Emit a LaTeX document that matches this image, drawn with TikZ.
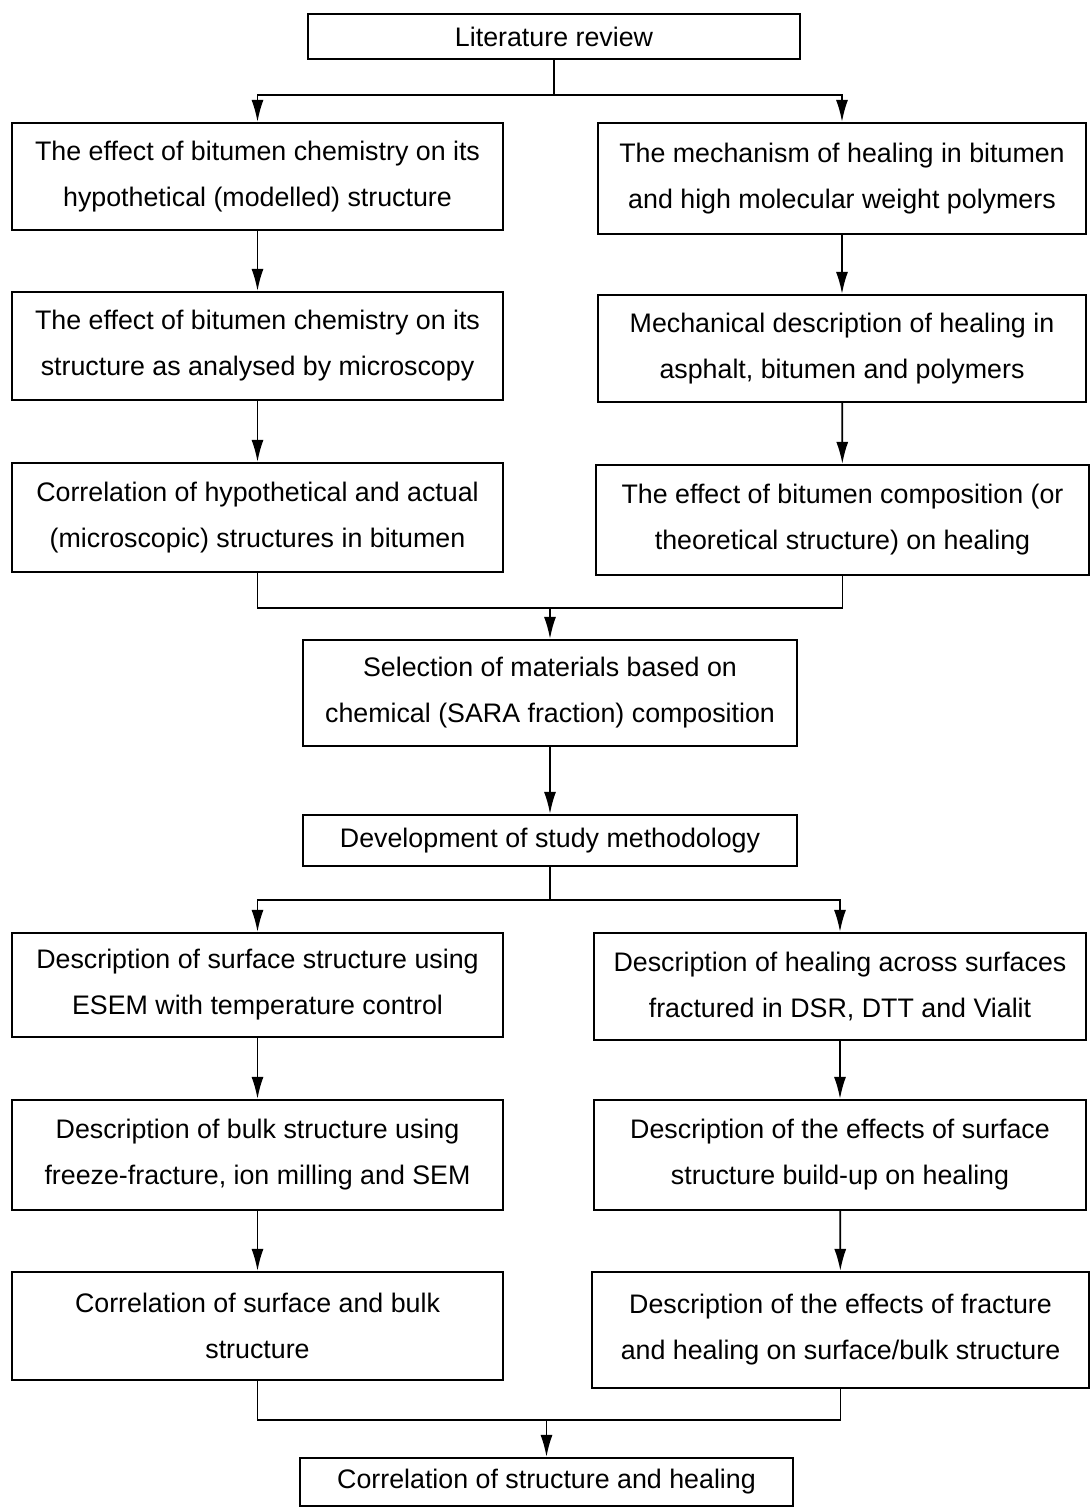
\documentclass[tikz,border=0pt]{standalone}
\usepackage{fontspec}
\setmainfont{Liberation Sans}
\usepackage{tikz}
\usetikzlibrary{arrows.meta}
\tikzset{
    every node/.style={align=center,font=\fontsize{26.8}{46}\selectfont,},
    stage/.style={draw,rectangle,line width=2.2pt,inner sep=0pt,minimum width=491pt,minimum height=107pt,},
    single/.style={stage,minimum height=47pt,},
    link/.style={line width=1.8pt,},
    flow/.style={link,-{Latex[length=22pt,width=12pt]},},
}

\begin{document}
\begin{tikzpicture}[x=1pt,y=-1pt]
                \useasboundingbox (0,0) rectangle (1091,1508);

                \node[single,minimum width=492pt,minimum height=45pt] (review) at (554, 36.5) {Literature review};

                \node[stage] (chem_model) at (257.5, 176.5) {The effect of bitumen chemistry on its\\hypothetical (modelled) structure};
                \node[stage,minimum width=488pt,minimum height=111pt] (heal_mech) at (842, 178.5) {The mechanism of healing in bitumen\\and high molecular weight polymers};

                \node[stage,minimum height=108pt] (chem_micro) at (257.5, 346) {The effect of bitumen chemistry on its\\structure as analysed by microscopy};
                \node[stage,minimum width=488pt] (heal_desc) at (842, 348.5) {Mechanical description of healing in\\asphalt, bitumen and polymers};

                \node[stage,minimum height=109pt] (corr_struct) at (257.5, 517.5) {Correlation of hypothetical and actual\\(microscopic) structures in bitumen};
                \node[stage,minimum width=493pt,minimum height=110pt] (comp_heal) at (842.5, 520) {The effect of bitumen composition (or\\theoretical structure) on healing};

                \node[stage,minimum width=494pt,minimum height=106pt] (selection) at (550, 693) {Selection of materials based on\\chemical (SARA fraction) composition};
                \node[single,minimum width=494pt,minimum height=51pt] (method) at (550, 840.5) {Development of study methodology};

                \node[stage,minimum height=104pt] (surf_esem) at (257.5, 985) {Description of surface structure using\\ESEM with temperature control};
                \node[stage,minimum width=492pt] (heal_frac) at (840, 986.5) {Description of healing across surfaces\\fractured in DSR, DTT and Vialit};

                \node[stage,minimum height=110pt] (bulk_sem) at (257.5, 1155) {Description of bulk structure using\\freeze-fracture, ion milling and SEM};
                \node[stage,minimum width=492pt,minimum height=110pt] (buildup) at (840, 1155) {Description of the effects of surface\\structure build-up on healing};

                \node[stage,minimum height=108pt] (surf_bulk) at (257.5, 1326) {Correlation of surface and bulk\\structure};
                \node[stage,minimum width=497pt,minimum height=116pt] (frac_effect) at (840.5, 1330) {Description of the effects of fracture\\and healing on surface/bulk structure};

                \node[single,minimum width=493pt,minimum height=48pt] (final) at (546.5, 1482) {Correlation of structure and healing};

                % split after the review
                \coordinate (split_a) at (554, 95);
                \draw[link] (review) -- (split_a);
                \draw[flow] (split_a) -| (chem_model);
                \draw[flow] (split_a) -| (heal_mech);

                \draw[flow] (chem_model) to (chem_micro);
                \draw[flow] (chem_micro) to (corr_struct);
                \draw[flow] (heal_mech) to (heal_desc);
                \draw[flow] (heal_desc) to (comp_heal);

                % join into the selection
                \coordinate (join_a) at (550, 608);
                \draw[link] (corr_struct) |- (join_a) -| (comp_heal);
                \draw[flow] (join_a) to (selection);

                \draw[flow] (selection) to (method);

                % split after the methodology
                \coordinate (split_b) at (550, 900);
                \draw[link] (method) -- (split_b);
                \draw[flow] (split_b) -| (surf_esem);
                \draw[flow] (split_b) -| (heal_frac);

                \draw[flow] (surf_esem) to (bulk_sem);
                \draw[flow] (bulk_sem) to (surf_bulk);
                \draw[flow] (heal_frac) to (buildup);
                \draw[flow] (buildup) to (frac_effect);

                % join into the final correlation
                \coordinate (join_b) at (546.5, 1420);
                \draw[link] (surf_bulk) |- (join_b) -| (frac_effect);
                \draw[flow] (join_b) to (final);
            \end{tikzpicture}
\end{document}
